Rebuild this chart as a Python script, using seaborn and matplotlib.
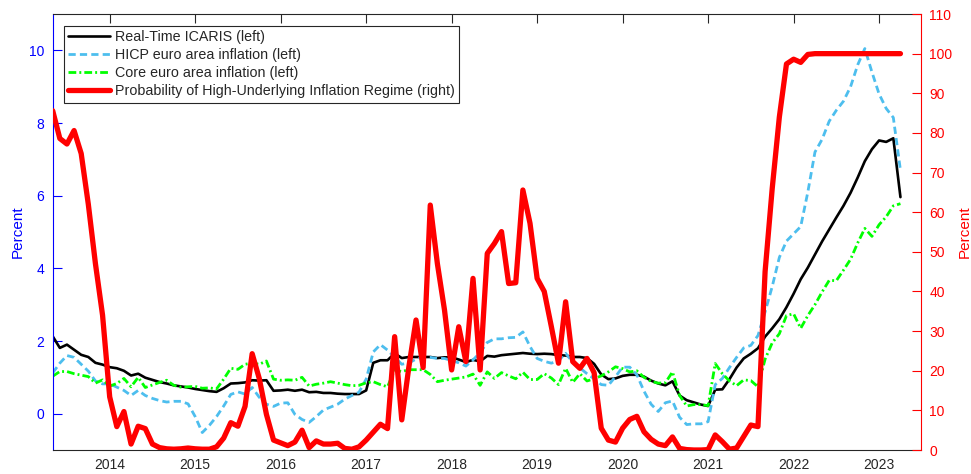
import numpy as np
import pandas as pd
import matplotlib
matplotlib.use("Agg")
import matplotlib.pyplot as plt
import seaborn as sns

# Monthly observations, May 2013 - April 2023
start_month = "2013-05-01"

icaris = [2.13, 1.81, 1.90, 1.76, 1.62, 1.56, 1.40, 1.35, 1.28, 1.25,
          1.18, 1.05, 1.10, 0.99, 0.93, 0.87, 0.83, 0.78, 0.75, 0.72,
          0.68, 0.65, 0.62, 0.60, 0.70, 0.83, 0.84, 0.86, 0.92, 0.91,
          0.92, 0.63, 0.64, 0.66, 0.63, 0.66, 0.59, 0.60, 0.57, 0.57,
          0.55, 0.54, 0.54, 0.54, 0.64, 1.40, 1.47, 1.47, 1.66, 1.53,
          1.56, 1.56, 1.56, 1.56, 1.53, 1.55, 1.55, 1.49, 1.42, 1.48,
          1.44, 1.59, 1.57, 1.61, 1.63, 1.65, 1.67, 1.65, 1.64, 1.65,
          1.64, 1.61, 1.60, 1.56, 1.56, 1.53, 1.37, 1.08, 0.95, 0.97,
          1.04, 1.07, 1.07, 1.02, 0.91, 0.83, 0.78, 0.89, 0.50, 0.37,
          0.31, 0.25, 0.21, 0.66, 0.67, 0.95, 1.27, 1.52, 1.65, 1.80,
          2.12, 2.35, 2.60, 2.93, 3.30, 3.70, 4.02, 4.38, 4.74, 5.07,
          5.40, 5.72, 6.08, 6.50, 6.95, 7.28, 7.52, 7.48, 7.58, 5.96]

hicp = [1.12, 1.39, 1.60, 1.55, 1.36, 1.17, 0.90, 0.82, 0.82, 0.73,
        0.64, 0.50, 0.64, 0.50, 0.42, 0.36, 0.32, 0.34, 0.34, 0.27,
        -0.08, -0.52, -0.32, -0.08, 0.21, 0.53, 0.60, 0.54, 0.72, 0.45,
        0.26, 0.20, 0.29, 0.30, -0.02, -0.16, -0.24, -0.08, 0.10, 0.18,
        0.26, 0.40, 0.50, 0.59, 0.95, 1.70, 1.90, 1.75, 1.55, 1.36,
        1.40, 1.50, 1.56, 1.55, 1.52, 1.52, 1.46, 1.40, 1.31, 1.48,
        1.68, 1.96, 2.06, 2.06, 2.09, 2.10, 2.25, 1.85, 1.52, 1.44,
        1.39, 1.46, 1.66, 1.42, 1.26, 1.10, 0.96, 0.80, 0.78, 1.02,
        1.28, 1.28, 1.07, 0.62, 0.26, 0.06, 0.30, 0.35, -0.10, -0.30,
        -0.28, -0.28, -0.22, 0.80, 0.97, 1.27, 1.55, 1.81, 1.88, 2.15,
        2.80, 3.50, 4.30, 4.75, 4.95, 5.15, 6.10, 7.20, 7.55, 8.05,
        8.35, 8.60, 9.00, 9.60, 10.05, 9.40, 8.80, 8.40, 8.15, 6.70]

core = [1.03, 1.16, 1.16, 1.10, 1.06, 1.02, 0.84, 0.93, 0.76, 0.83,
        0.97, 0.74, 1.00, 0.72, 0.79, 0.86, 0.92, 0.78, 0.73, 0.74,
        0.75, 0.70, 0.71, 0.68, 0.95, 1.25, 1.22, 1.36, 1.39, 1.36,
        1.45, 0.95, 0.92, 0.93, 0.92, 1.00, 0.76, 0.81, 0.84, 0.88,
        0.84, 0.80, 0.77, 0.78, 0.85, 0.88, 0.80, 0.74, 1.20, 1.16,
        1.21, 1.21, 1.21, 1.08, 0.88, 0.92, 0.95, 0.98, 1.01, 1.09,
        0.78, 1.15, 0.97, 1.13, 1.04, 0.96, 1.14, 0.94, 0.94, 1.10,
        0.98, 0.80, 1.25, 0.86, 1.10, 0.90, 0.96, 1.04, 1.15, 1.29,
        1.24, 1.15, 1.18, 1.00, 0.89, 0.84, 0.85, 1.15, 0.50, 0.21,
        0.25, 0.25, 0.22, 1.38, 1.10, 0.90, 0.77, 0.93, 0.91, 0.74,
        1.50, 1.95, 2.20, 2.70, 2.75, 2.35, 2.70, 3.00, 3.35, 3.67,
        3.66, 3.95, 4.25, 4.70, 5.10, 4.88, 5.20, 5.42, 5.72, 5.78]

prob_high = [85.6, 78.6, 77.2, 80.6, 74.8, 62.0, 47.0, 34.0, 13.4, 5.9,
             9.7, 1.5, 6.0, 5.4, 1.5, 0.6, 0.3, 0.2, 0.3, 0.5,
             0.3, 0.2, 0.2, 0.8, 3.0, 6.9, 6.0, 11.0, 24.3, 18.0,
             9.0, 2.5, 1.8, 1.1, 2.0, 5.0, 0.6, 2.3, 1.5, 1.5,
             1.7, 0.4, 0.2, 0.8, 2.5, 4.5, 6.5, 5.4, 28.6, 7.6,
             21.0, 32.8, 20.8, 61.8, 47.0, 35.3, 20.2, 31.1, 22.3, 43.3,
             20.2, 49.6, 52.1, 55.1, 42.0, 42.2, 65.6, 57.2, 43.3, 40.0,
             31.1, 21.9, 37.4, 22.3, 20.6, 23.1, 19.5, 5.5, 2.5, 2.0,
             5.5, 7.7, 8.5, 4.6, 2.7, 1.5, 1.1, 3.3, 0.4, 0.1,
             0.0, 0.0, 0.1, 3.8, 2.1, 0.2, 0.5, 3.4, 6.3, 5.9,
             45.0, 66.0, 84.0, 97.4, 98.6, 97.8, 99.8, 100.0, 100.0, 100.0,
             100.0, 100.0, 100.0, 100.0, 100.0, 100.0, 100.0, 100.0, 100.0, 100.0]

year_ticks = [2014, 2015, 2016, 2017, 2018, 2019, 2020, 2021, 2022, 2023]
left_ticks = [0, 2, 4, 6, 8, 10]
right_ticks = list(range(0, 111, 10))

labels = ["Real-Time ICARIS (left)",
          "HICP euro area inflation (left)",
          "Core euro area inflation (left)",
          "Probability of High-Underlying Inflation Regime (right)"]

# Decimal-year position of each monthly observation
dates = pd.date_range(start_month, periods=len(icaris), freq="MS")
df = pd.DataFrame({
    "t": dates.year + (dates.month - 1) / 12.0,
    "icaris": icaris,
    "hicp": hicp,
    "core": core,
    "prob": prob_high,
})

sns.set_style("white")
plt.rcParams["font.family"] = ["Liberation Sans", "DejaVu Sans"]
plt.rcParams["font.size"] = 10

BLUE = "#0000FF"
RED = "#FF0000"
GREY = "#262626"

fig = plt.figure(figsize=(9.71, 4.74), dpi=100)
ax = fig.add_axes([0.05427, 0.05063, 0.8942, 0.9198])
ax2 = ax.twinx()

sns.lineplot(data=df, x="t", y="icaris", ax=ax, color="black",
             linewidth=1.9, label=labels[0], legend=False)
sns.lineplot(data=df, x="t", y="hicp", ax=ax, color="#4DBEEE",
             linewidth=2.0, linestyle=(0, (2.6, 1.5)), label=labels[1], legend=False)
sns.lineplot(data=df, x="t", y="core", ax=ax, color="#00FF00",
             linewidth=2.0, linestyle=(0, (2.8, 1.1, 0.7, 1.1)), label=labels[2], legend=False)
sns.lineplot(data=df, x="t", y="prob", ax=ax2, color=RED,
             linewidth=3.8, label=labels[3], legend=False)

ax.set_xlim(2013 + 4 / 12, 2023.49)
ax.set_ylim(-1, 11)
ax2.set_ylim(0, 110)

ax.set_xticks(year_ticks)
ax.set_xticklabels([str(y) for y in year_ticks])
ax.set_yticks(left_ticks)
ax2.set_yticks(right_ticks)

ax.set_xlabel("")
ax.set_ylabel("Percent", color=BLUE, fontsize=11)
ax2.set_ylabel("Percent", color=RED, fontsize=11, rotation=90)
ax.yaxis.set_label_coords(-0.032, 0.5)
ax2.yaxis.set_label_coords(1.0426, 0.5)

ax.tick_params(axis="x", direction="in", length=6.5, width=0.8,
               color=GREY, labelcolor=GREY, labelsize=10, top=True, pad=6)
ax.tick_params(axis="y", direction="in", length=6.5, width=0.8,
               color=BLUE, labelcolor=BLUE, labelsize=10, pad=6)
ax2.tick_params(axis="y", direction="in", length=6.5, width=0.8,
                color=RED, labelcolor=RED, labelsize=10, pad=6)

for name, sp in ax.spines.items():
    sp.set_linewidth(0.8)
    sp.set_color(GREY)
ax.spines["left"].set_color(BLUE)
ax.spines["right"].set_visible(False)
for name, sp in ax2.spines.items():
    sp.set_visible(name == "right")
ax2.spines["right"].set_color(RED)
ax2.spines["right"].set_linewidth(0.8)

h1, l1 = ax.get_legend_handles_labels()
h2, l2 = ax2.get_legend_handles_labels()
leg = ax2.legend(h1 + h2, l1 + l2, loc="upper left",
                 bbox_to_anchor=(0.013, 0.9725), borderaxespad=0,
                 fancybox=False, framealpha=1, edgecolor=GREY,
                 fontsize=10.3, handlelength=2.9, handletextpad=0.35,
                 labelspacing=0.28, borderpad=0.3)
leg.get_frame().set_linewidth(0.8)

fig.savefig("out.png", dpi=100)
